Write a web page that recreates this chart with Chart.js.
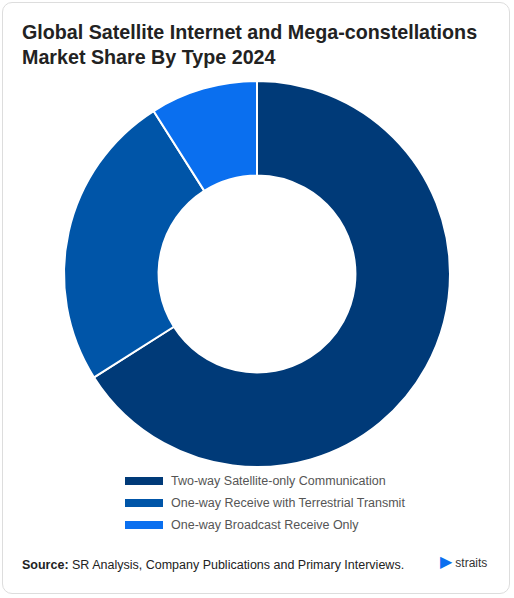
<!DOCTYPE html>
<html><head><meta charset="utf-8">
<script src="https://cdn.jsdelivr.net/npm/chart.js@4"></script>
<style>
body{margin:0;background:#fff;font-family:"Liberation Sans",Arial,sans-serif;}
#card{position:absolute;left:2px;top:2px;width:508px;height:592px;border:1px solid #ddd;border-radius:10px;box-sizing:border-box;}
#title{position:absolute;left:22px;top:20px;font-size:19.7px;font-weight:bold;color:#222;line-height:25px;}
#wrap{position:absolute;left:0;top:78px;width:514px;height:392px;}
#legend{position:absolute;left:125px;top:470px;font-size:12.5px;color:#555;}
.li{height:22px;display:flex;align-items:center;}
.sw{width:38px;height:8px;margin-right:8px;}
#src{position:absolute;left:22px;top:558px;font-size:12.5px;color:#222;}
#logo{position:absolute;left:440px;top:552px;font-size:12px;color:#333;}
</style></head><body>
<div id="card"></div>
<div id="title">Global Satellite Internet and Mega-constellations<br>Market Share By Type 2024</div>
<div id="wrap"><canvas id="c"></canvas></div>
<div id="legend"></div>
<div id="src"><b>Source:</b> SR Analysis, Company Publications and Primary Interviews.</div>
<div id="logo"><span style="color:#0a6fef;font-size:16px">&#9654;</span> straits</div>
<script>
const categories=["Two-way Satellite-only Communication","One-way Receive with Terrestrial Transmit","One-way Broadcast Receive Only"];
const values=[66,25,9];
const colors=["#003a78","#0055a8","#0a6fef"];
const lg=document.getElementById('legend');
categories.forEach((c,i)=>{lg.innerHTML+=`<div class="li"><div class="sw" style="background:${colors[i]}"></div>${c}</div>`;});
new Chart(document.getElementById('c'),{type:'doughnut',
data:{labels:categories,datasets:[{data:values,backgroundColor:colors,borderColor:'#fff',borderWidth:2}]},
options:{responsive:true,maintainAspectRatio:false,animation:false,cutout:'51%',
layout:{padding:2},plugins:{legend:{display:false},tooltip:{enabled:false}}}});
</script></body></html>
